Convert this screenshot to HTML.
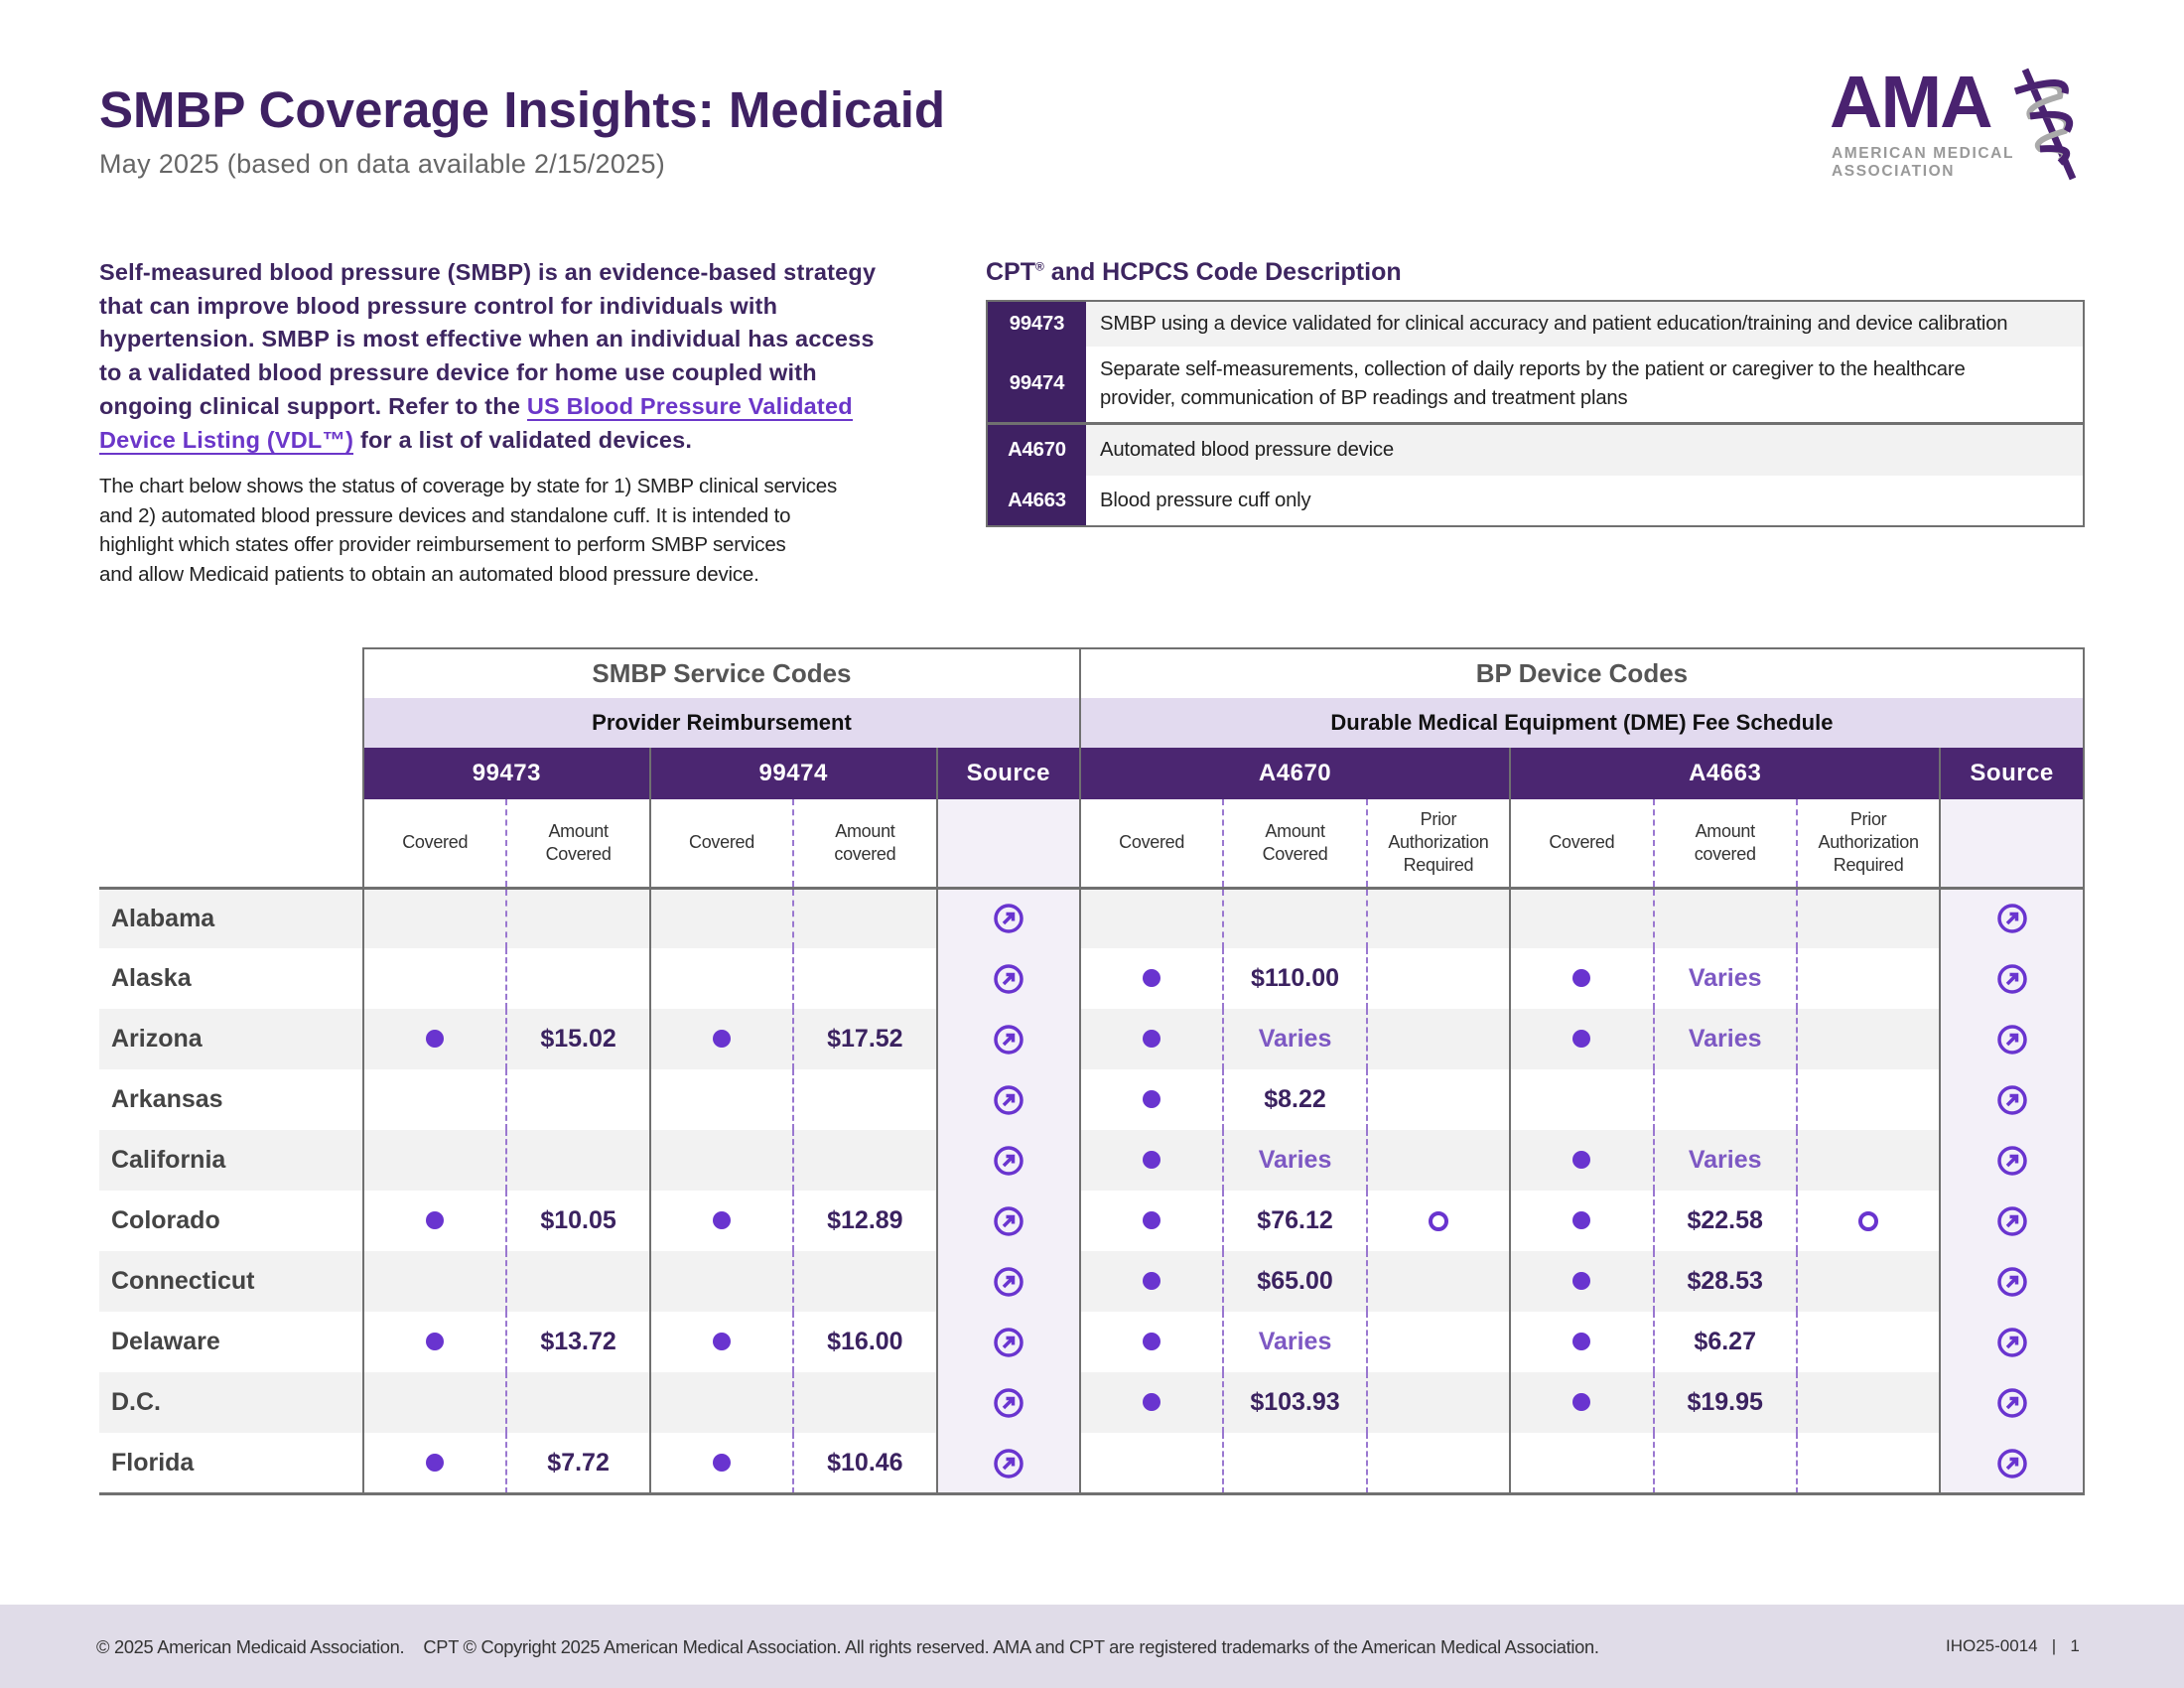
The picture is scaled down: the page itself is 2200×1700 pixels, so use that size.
<!DOCTYPE html>
<html><head><meta charset="utf-8">
<style>
*{margin:0;padding:0;box-sizing:border-box}
body{width:2200px;height:1700px;position:relative;background:#fff;font-family:"Liberation Sans",sans-serif;overflow:hidden}
.abs{position:absolute;white-space:nowrap}
#t{border-collapse:collapse;table-layout:fixed;position:absolute;left:100px;top:652px}
#t td{text-align:center;vertical-align:middle;padding:0}
.s{border-left:2px solid #707070}
.d{border-left:2px dashed #9a78d0}
.r{border-right:2px solid #707070}
.hd td{font-size:26px;color:#555;font-weight:bold;border-top:2px solid #707070}
.lv td{background:#e2daef;font-size:22px;font-weight:bold;color:#111}
.pu td{background:#4b2671;color:#fff;font-size:24px;font-weight:bold;letter-spacing:0.5px}
.sh td{font-size:18px;color:#333;line-height:23px;letter-spacing:-0.3px}
.src{background:#f3f0f8 !important}
.dr td{height:61px}
.dr.g td{background:#f2f2f2}
.lab{text-align:left !important;padding-left:12px !important;font-size:25px;font-weight:bold;color:#444;border-left:none}
.dot{display:inline-block;width:18px;height:18px;border-radius:50%;background:#6934cf;vertical-align:middle}
.ring{display:inline-block;width:20px;height:20px;border-radius:50%;border:4px solid #6934cf;vertical-align:middle}
.am{font-size:25px;font-weight:bold;color:#3b2260}
.va{font-size:25px;font-weight:bold;color:#7d58c3}
.ic{vertical-align:middle}
#c td{font-size:20.3px;color:#222;letter-spacing:-0.2px}
</style></head><body>

<div class="abs" style="left:100px;top:81px;font-size:51px;font-weight:bold;color:#3f2163;letter-spacing:0px">SMBP Coverage Insights: Medicaid</div>
<div class="abs" style="left:100px;top:150px;font-size:27px;color:#666;letter-spacing:0.3px">May 2025 (based on data available 2/15/2025)</div>

<div class="abs" style="left:1843px;top:66px;font-size:74px;font-weight:bold;color:#4a2270;letter-spacing:-2px;line-height:74px">AMA</div>
<div class="abs" style="left:1845px;top:146px;font-size:15.5px;font-weight:bold;color:#999;letter-spacing:1.6px;line-height:18px">AMERICAN MEDICAL<br>ASSOCIATION</div>
<svg class="abs" style="left:2020px;top:62px" width="90" height="125" viewBox="0 0 90 125">
<line x1="20" y1="8" x2="68" y2="118" stroke="#4a2270" stroke-width="7"/>
<path d="M10 30 Q60 15 55 35 Q20 45 25 55 Q70 50 60 70 Q25 80 35 88 Q70 88 55 100" fill="none" stroke="#aaa" stroke-width="6"/>
<path d="M10 30 Q65 12 60 32 M25 55 Q75 48 62 70 M35 88 Q75 85 55 102" fill="none" stroke="#4a2270" stroke-width="7"/>
</svg>

<div class="abs" style="left:100px;top:258px;font-size:23.5px;font-weight:bold;color:#3d2560;line-height:33.7px;letter-spacing:0.2px">Self-measured blood pressure (SMBP) is an evidence-based strategy<br>that can improve blood pressure control for individuals with<br>hypertension. SMBP is most effective when an individual has access<br>to a validated blood pressure device for home use coupled with<br>ongoing clinical support. Refer to the <span style="color:#6b36c9;border-bottom:2px solid #6b36c9">US Blood Pressure Validated</span><br><span style="color:#6b36c9;border-bottom:2px solid #6b36c9">Device Listing (VDL™)</span> for a list of validated devices.</div>
<div class="abs" style="left:100px;top:475px;font-size:20.5px;color:#222;line-height:29.5px;letter-spacing:-0.2px">The chart below shows the status of coverage by state for 1) SMBP clinical services<br>and 2) automated blood pressure devices and standalone cuff. It is intended to<br>highlight which states offer provider reimbursement to perform SMBP services<br>and allow Medicaid patients to obtain an automated blood pressure device.</div>

<div class="abs" style="left:993px;top:260px;font-size:25px;font-weight:bold;color:#3d2560;letter-spacing:0px">CPT<sup style="font-size:12px">®</sup> and HCPCS Code Description</div>
<table id="c" style="position:absolute;left:993px;top:302px;width:1107px;border-collapse:collapse;border:2px solid #707070">
<tr style="height:46px;background:#f2f2f2"><td style="width:100px;background:#3f2163;color:#fff;font-weight:bold;text-align:center">99473</td><td style="padding-left:14px">SMBP using a device validated for clinical accuracy and patient education/training and device calibration</td></tr>
<tr style="height:77px"><td style="background:#3f2163;color:#fff;font-weight:bold;text-align:center">99474</td><td style="padding-left:14px;line-height:29px">Separate self-measurements, collection of daily reports by the patient or caregiver to the healthcare<br>provider, communication of BP readings and treatment plans</td></tr>
<tr style="height:53px;background:#f2f2f2;border-top:3px solid #707070"><td style="background:#3f2163;color:#fff;font-weight:bold;text-align:center">A4670</td><td style="padding-left:14px">Automated blood pressure device</td></tr>
<tr style="height:51px"><td style="background:#3f2163;color:#fff;font-weight:bold;text-align:center">A4663</td><td style="padding-left:14px">Blood pressure cuff only</td></tr>
</table>

<table id="t">
<colgroup><col style="width:266px"><col span="11" style="width:144.4px"><col style="width:144.6px"></colgroup>
<tr class="hd" style="height:50px"><td style="border-top:none"></td><td colspan="5" class="s">SMBP Service Codes</td><td colspan="7" class="s r">BP Device Codes</td></tr>
<tr class="lv" style="height:50px"><td style="background:#fff"></td><td colspan="5" class="s">Provider Reimbursement</td><td colspan="7" class="s r">Durable Medical Equipment (DME) Fee Schedule</td></tr>
<tr class="pu" style="height:52px"><td style="background:#fff"></td><td colspan="2" class="s">99473</td><td colspan="2" class="s">99474</td><td class="s">Source</td><td colspan="3" class="s">A4670</td><td colspan="3" class="s">A4663</td><td class="s r">Source</td></tr>
<tr class="sh" style="height:89px;border-bottom:3px solid #707070"><td style="border-bottom:none"></td><td class="s">Covered</td><td class="d">Amount<br>Covered</td><td class="s">Covered</td><td class="d">Amount<br>covered</td><td class="s src"></td><td class="s">Covered</td><td class="d">Amount<br>Covered</td><td class="d">Prior<br>Authorization<br>Required</td><td class="s">Covered</td><td class="d">Amount<br>covered</td><td class="d">Prior<br>Authorization<br>Required</td><td class="s r src"></td></tr>
</table>

<div class="abs" style="left:100px;top:893px;width:266px;height:3px;background:#707070"></div>
<div class="abs" style="left:100px;top:1503px;width:2000px;height:3px;background:#707070"></div>

<div class="abs" style="left:0;top:1616px;width:2200px;height:84px;background:#e0dce8"></div>
<div class="abs" style="left:97px;top:1648px;font-size:18.3px;color:#333;letter-spacing:-0.3px">© 2025 American Medicaid Association.&nbsp;&nbsp;&nbsp;&nbsp;CPT © Copyright 2025 American Medical Association. All rights reserved. AMA and CPT are registered trademarks of the American Medical Association.</div>
<div class="abs" style="left:1960px;top:1648px;font-size:17px;color:#333">IHO25-0014&nbsp;&nbsp;&nbsp;|&nbsp;&nbsp;&nbsp;1</div>

<script>
var I='<svg class="ic" width="32" height="32" viewBox="0 0 32 32"><circle cx="16" cy="16" r="13" fill="none" stroke="#6934cf" stroke-width="3.5"/><path d="M11 21 L20 12 M13.5 11.5 H20.5 V18.5" fill="none" stroke="#6934cf" stroke-width="3.5"/></svg>';
var D='<span class="dot"></span>',R='<span class="ring"></span>';
function A(v){return v?(v=='Varies'?'<span class="va">Varies</span>':'<span class="am">'+v+'</span>'):''}
var rows=[
['Alabama',0,'',0,'',0,'',0,0,'',0],
['Alaska',0,'',0,'',1,'$110.00',0,1,'Varies',0],
['Arizona',1,'$15.02',1,'$17.52',1,'Varies',0,1,'Varies',0],
['Arkansas',0,'',0,'',1,'$8.22',0,0,'',0],
['California',0,'',0,'',1,'Varies',0,1,'Varies',0],
['Colorado',1,'$10.05',1,'$12.89',1,'$76.12',1,1,'$22.58',1],
['Connecticut',0,'',0,'',1,'$65.00',0,1,'$28.53',0],
['Delaware',1,'$13.72',1,'$16.00',1,'Varies',0,1,'$6.27',0],
['D.C.',0,'',0,'',1,'$103.93',0,1,'$19.95',0],
['Florida',1,'$7.72',1,'$10.46',0,'',0,0,'',0]];
var h='';
rows.forEach(function(r,i){
h+='<tr class="dr'+(i%2==0?' g':'')+'"><td class="lab">'+r[0]+'</td>'+
'<td class="s">'+(r[1]?D:'')+'</td><td class="d">'+A(r[2])+'</td>'+
'<td class="s">'+(r[3]?D:'')+'</td><td class="d">'+A(r[4])+'</td>'+
'<td class="s src">'+I+'</td>'+
'<td class="s">'+(r[5]?D:'')+'</td><td class="d">'+A(r[6])+'</td><td class="d">'+(r[7]?R:'')+'</td>'+
'<td class="s">'+(r[8]?D:'')+'</td><td class="d">'+A(r[9])+'</td><td class="d">'+(r[10]?R:'')+'</td>'+
'<td class="s r src">'+I+'</td></tr>';
});
document.getElementById('t').insertAdjacentHTML('beforeend',h);
</script>
</body></html>
